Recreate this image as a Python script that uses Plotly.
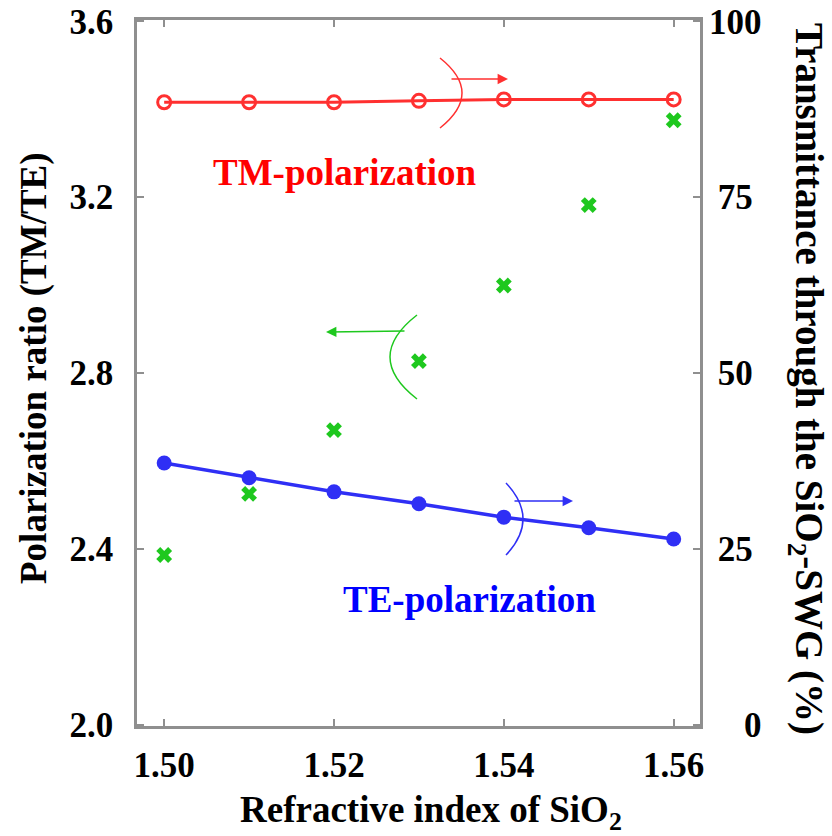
import plotly.graph_objects as go

# ---- data ----
n_sio2 = [1.50, 1.51, 1.52, 1.53, 1.54, 1.55, 1.56]
pol_ratio = [2.386, 2.525, 2.670, 2.827, 2.999, 3.182, 3.375]      # left axis (green x)
tm_trans = [88.5, 88.5, 88.5, 88.7, 88.9, 88.9, 88.9]               # right axis (red)
te_trans = [37.2, 35.1, 33.1, 31.4, 29.5, 28.0, 26.4]               # right axis (blue)
left_ticks = [2.0, 2.4, 2.8, 3.2, 3.6]
left_ticktext = ["<b>2.0</b>", "<b>2.4</b>", "<b>2.8</b>", "<b>3.2</b>", "<b>3.6</b>"]
right_ticks = [0, 25, 50, 75, 100]
right_ticktext = ["<b>\u2002\u20020</b>", "<b>\u200525</b>", "<b>\u200550</b>",
                  "<b>\u200575</b>", "<b>100</b>"]
x_ticks = [1.50, 1.52, 1.54, 1.56]
x_ticktext = ["<b>1.50</b>", "<b>1.52</b>", "<b>1.54</b>", "<b>1.56</b>"]

RED = "#ff3030"
BLUE = "#2f2ff5"
GREEN = "#1ec81e"
FONT = "Liberation Serif"

# plot area in pixels
L, R, T, B = 137, 700, 20, 726
W, H = 832, 836

def px(x):
    return (x - L) / (R - L)

def py(y):
    return (B - y) / (B - T)

fig = go.Figure()
fig.add_trace(go.Scatter(x=n_sio2, y=pol_ratio, mode="markers", yaxis="y",
                         marker=dict(symbol="x", size=14, color=GREEN,
                                     line=dict(width=0)),
                         showlegend=False))
fig.add_trace(go.Scatter(x=n_sio2, y=tm_trans, mode="lines+markers", yaxis="y2",
                         line=dict(color=RED, width=3),
                         marker=dict(symbol="circle-open", size=13,
                                     color=RED, line=dict(width=3)),
                         showlegend=False))
fig.add_trace(go.Scatter(x=n_sio2, y=te_trans, mode="lines+markers", yaxis="y2",
                         line=dict(color=BLUE, width=3.5),
                         marker=dict(symbol="circle", size=15, color=BLUE),
                         showlegend=False))

tickfont = dict(family=FONT, size=35, color="black")
axcol = "#8f8f8f"

fig.update_layout(
    width=W, height=H,
    margin=dict(l=L, r=W - R, t=T, b=H - B, pad=0, autoexpand=False),
    paper_bgcolor="white", plot_bgcolor="white",
    font=dict(family=FONT, color="black"),
    xaxis=dict(range=[1.4968, 1.5631], tickvals=x_ticks, ticktext=x_ticktext,
               ticks="inside", ticklen=7, tickwidth=2, tickcolor=axcol,
               showline=True, linecolor=axcol, linewidth=2.5, mirror="ticks",
               showgrid=False, zeroline=False, tickfont=tickfont,
               ticklabelstandoff=6, automargin=False),
    yaxis=dict(range=[1.997, 3.603], tickvals=left_ticks, ticktext=left_ticktext,
               ticks="inside", ticklen=7, tickwidth=2, tickcolor=axcol,
               showline=True, linecolor=axcol, linewidth=2.5, mirror=True,
               showgrid=False, zeroline=False, tickfont=tickfont,
               ticklabelstandoff=14, automargin=False),
    yaxis2=dict(range=[-0.2, 100.2], overlaying="y", side="right",
                tickvals=right_ticks, ticktext=right_ticktext,
                ticks="inside", ticklen=7, tickwidth=2, tickcolor=axcol,
                showline=False, showgrid=False, zeroline=False,
                tickfont=tickfont, ticklabelstandoff=8, automargin=False),
)

anns = []
# axis titles
anns.append(dict(text="<b>Polarization ratio (TM/TE)</b>", x=px(34), y=py(368),
                 xref="paper", yref="paper", showarrow=False, textangle=-90,
                 font=dict(family=FONT, size=37, color="black"),
                 xanchor="center", yanchor="middle"))
anns.append(dict(text="<b>Transmittance through the SiO<sub>2</sub>-SWG (%)</b>",
                 x=px(807), y=py(379), xref="paper", yref="paper",
                 showarrow=False, textangle=90,
                 font=dict(family=FONT, size=39, color="black"),
                 xanchor="center", yanchor="middle"))
anns.append(dict(text="<b>Refractive index of SiO<sub>2</sub></b>", x=px(431), y=py(813),
                 xref="paper", yref="paper", showarrow=False,
                 font=dict(family=FONT, size=37, color="black"),
                 xanchor="center", yanchor="middle"))
# series labels
anns.append(dict(text="<b>TM-polarization</b>", x=px(345), y=py(172),
                 xref="paper", yref="paper", showarrow=False,
                 font=dict(family=FONT, size=37, color="#ff0000"),
                 xanchor="center", yanchor="middle"))
anns.append(dict(text="<b>TE-polarization</b>", x=px(469), y=py(599),
                 xref="paper", yref="paper", showarrow=False,
                 font=dict(family=FONT, size=37, color="#0000ff"),
                 xanchor="center", yanchor="middle"))
# arrows
for (x0, y0, x1, y1, c) in [(450, 79, 508, 79, RED),
                            (513, 501, 573, 501, BLUE),
                            (406, 331, 326, 332, GREEN)]:
    anns.append(dict(x=px(x1), y=py(y1), xref="paper", yref="paper",
                     ax=x0 - x1, ay=y0 - y1, axref="pixel", ayref="pixel",
                     showarrow=True, arrowhead=2, arrowsize=1.3, arrowwidth=1.6,
                     arrowcolor=c, text=""))
fig.update_layout(annotations=anns)

# arcs around arrows
def arc(p0, mid, p2, color):
    cx = (4 * mid[0] - p0[0] - p2[0]) / 2
    cy = (4 * mid[1] - p0[1] - p2[1]) / 2
    path = "M {},{} Q {},{} {},{}".format(px(p0[0]), py(p0[1]), px(cx), py(cy),
                                          px(p2[0]), py(p2[1]))
    return dict(type="path", path=path, xref="paper", yref="paper",
                line=dict(color=color, width=1.5))

fig.update_layout(shapes=[
    arc((440, 58), (462, 93), (440, 128), RED),
    arc((506, 483), (523, 519), (506, 555), BLUE),
    arc((417, 315), (390, 357), (417, 399), GREEN),
])

fig.write_html("out.html")
